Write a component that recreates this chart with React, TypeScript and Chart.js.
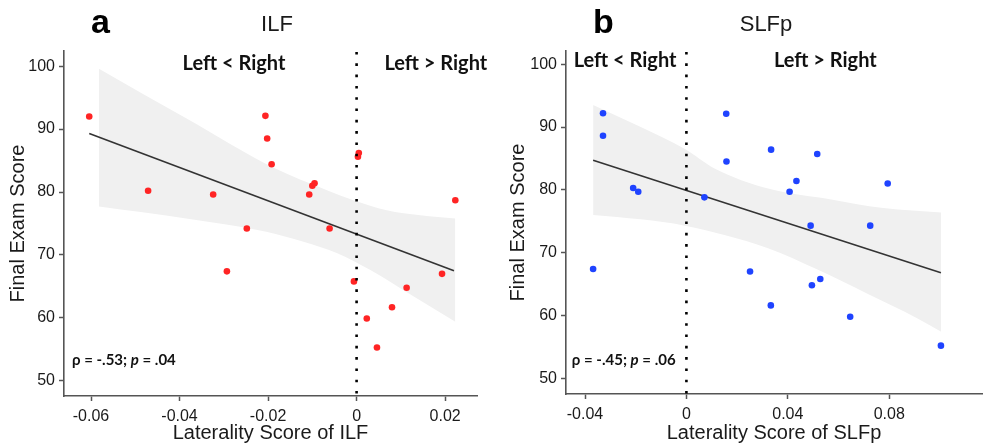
import React, { useEffect, useRef } from 'react';
import { Chart, registerables } from 'chart.js';

Chart.register(...registerables);

// ---------- Data: panel a (ILF) ----------
const ilfX = [-0.0604, -0.0471, -0.0324, -0.0293, -0.0248, -0.0206, -0.0202, -0.0192, -0.0107, -0.0100, -0.0095, -0.0061, -0.0006, 0.0003, 0.0005, 0.0023, 0.0046, 0.0080, 0.0113, 0.0193, 0.0223];
const ilfY = [92.0, 80.2, 79.6, 67.4, 74.2, 92.1, 88.5, 84.4, 79.6, 81.0, 81.4, 74.2, 65.8, 85.6, 86.2, 59.9, 55.3, 61.7, 64.8, 67.0, 78.7];
const ilfFitX = [-0.0604, 0.0220];
const ilfFitY = [89.3, 67.5];
const ilfUpperX = [-0.0582, -0.0385, -0.0186, -0.0067, -0.0007, 0.0068, 0.0144, 0.0223];
const ilfUpperY = [99.6, 91.7, 83.8, 80.3, 78.7, 77.1, 76.3, 75.8];
const ilfLowerX = [-0.0582, -0.0385, -0.0204, -0.0120, -0.0045, 0.0031, 0.0106, 0.0223];
const ilfLowerY = [77.7, 75.8, 73.7, 72.1, 70.3, 67.6, 64.4, 59.4];
const ilfXTicks = [-0.06, -0.04, -0.02, 0, 0.02];

// ---------- Data: panel b (SLFp) ----------
const slfX = [-0.0368, -0.0329, -0.0329, -0.0210, -0.0190, 0.0071, 0.0157, 0.0158, 0.0251, 0.0333, 0.0334, 0.0407, 0.0434, 0.0490, 0.0495, 0.0516, 0.0528, 0.0646, 0.0725, 0.0794, 0.1004];
const slfY = [67.4, 92.2, 88.6, 80.3, 79.7, 78.8, 92.1, 84.5, 67.0, 61.6, 86.4, 79.7, 81.4, 74.3, 64.8, 85.7, 65.8, 59.8, 74.3, 81.0, 55.2];
const slfFitX = [-0.0368, 0.1004];
const slfFitY = [84.7, 66.8];
const slfUpperX = [-0.0368, -0.018, -0.0006, 0.0111, 0.0322, 0.0582, 0.0777, 0.1005];
const slfUpperY = [93.5, 90.0, 86.5, 83.4, 80.2, 78.4, 77.1, 76.4];
const slfLowerX = [-0.0368, -0.018, -0.0006, 0.015, 0.0322, 0.0517, 0.0712, 0.0908, 0.1005];
const slfLowerY = [76.0, 75.3, 74.3, 72.8, 70.7, 67.3, 63.5, 59.6, 57.4];
const slfXTicks = [-0.04, 0, 0.04, 0.08];

const yTicks = [50, 60, 70, 80, 90, 100];

const SANS = '"Liberation Sans", Arial, Helvetica, sans-serif';
const NOTE = 'Lato, "Open Sans", sans-serif';

type Seg = { t: string; italic?: boolean };

interface PanelSpec {
  left: number;
  w: number;
  letter: string;
  title: string;
  xTitle: string;
  px: number[];
  py: number[];
  color: string;
  fitX: number[];
  fitY: number[];
  upX: number[];
  upY: number[];
  loX: number[];
  loY: number[];
  xTicks: number[];
  xMin: number;
  xMax: number;
  yMin: number;
  yMax: number;
  yAxisW: number;
  xAxisH: number;
  padTop: number;
  padRight: number;
  letterX: number;
  titleX: number;
  ltX: number;
  gtX: number;
  labY: number;
  stat: Seg[];
  statX: number;
  statY: number;
}

const panelA: PanelSpec = {
  left: 0, w: 500, letter: 'a', title: 'ILF', xTitle: 'Laterality Score of ILF',
  px: ilfX, py: ilfY, color: '#ff2424',
  fitX: ilfFitX, fitY: ilfFitY, upX: ilfUpperX, upY: ilfUpperY, loX: ilfLowerX, loY: ilfLowerY,
  xTicks: ilfXTicks, xMin: -0.0661, xMax: 0.0272, yMin: 47.6, yMax: 102.4,
  yAxisW: 64, xAxisH: 51, padTop: 51, padRight: 23,
  letterX: 91, titleX: 277,
  ltX: -0.0277, gtX: 0.0179, labY: 99.4,
  stat: [{ t: 'ρ = -.53; ' }, { t: 'p', italic: true }, { t: ' = .04' }],
  statX: -0.0643, statY: 52.5,
};

const panelB: PanelSpec = {
  left: 500, w: 486, letter: 'b', title: 'SLFp', xTitle: 'Laterality Score of SLFp',
  px: slfX, py: slfY, color: '#1f43ff',
  fitX: slfFitX, fitY: slfFitY, upX: slfUpperX, upY: slfUpperY, loX: slfLowerX, loY: slfLowerY,
  xTicks: slfXTicks, xMin: -0.0475, xMax: 0.1166, yMin: 47.5, yMax: 102.1,
  yAxisW: 66, xAxisH: 53, padTop: 51, padRight: 0,
  letterX: 93, titleX: 266,
  ltX: -0.0242, gtX: 0.0548, labY: 99.6,
  stat: [{ t: 'ρ = -.45; ' }, { t: 'p', italic: true }, { t: ' = .06' }],
  statX: -0.0452, statY: 52.1,
};

const zip = (xs: number[], ys: number[]) => xs.map((x, i) => ({ x, y: ys[i] }));

const fmt = (v: number) => (Math.abs(v) < 1e-9 ? '0' : String(Number(v.toFixed(2))));

function drawSegs(ctx: CanvasRenderingContext2D, segs: Seg[], x: number, y: number, size: number, align: 'left' | 'center') {
  let total = 0;
  const widths: number[] = [];
  for (const s of segs) {
    ctx.font = `${s.italic ? 'italic ' : ''}bold ${size}px ${NOTE}`;
    const w = ctx.measureText(s.t).width;
    widths.push(w);
    total += w;
  }
  let cx = align === 'center' ? x - total / 2 : x;
  ctx.textAlign = 'left';
  ctx.textBaseline = 'alphabetic';
  segs.forEach((s, i) => {
    ctx.font = `${s.italic ? 'italic ' : ''}bold ${size}px ${NOTE}`;
    ctx.fillText(s.t, cx, y);
    cx += widths[i];
  });
}

function Panel({ spec }: { spec: PanelSpec }) {
  const ref = useRef<HTMLCanvasElement | null>(null);
  useEffect(() => {
    if (!ref.current) return;
    const textPlugin = {
      id: 'panelText',
      afterDatasetsDraw(chart: any) {
        const { ctx, chartArea, scales } = chart;
        const xs = scales.x;
        const ys = scales.y;
        ctx.save();
        const x0 = xs.getPixelForValue(0);
        ctx.beginPath();
        ctx.setLineDash([2.6, 8.7]);
        ctx.lineWidth = 2.6;
        ctx.strokeStyle = '#000';
        ctx.moveTo(x0, chartArea.top + 1);
        ctx.lineTo(x0, chartArea.bottom);
        ctx.stroke();
        ctx.setLineDash([]);
        ctx.fillStyle = '#111';
        drawSegs(ctx, [{ t: 'Left < Right' }], xs.getPixelForValue(spec.ltX), ys.getPixelForValue(spec.labY), 20, 'center');
        drawSegs(ctx, [{ t: 'Left > Right' }], xs.getPixelForValue(spec.gtX), ys.getPixelForValue(spec.labY), 20, 'center');
        drawSegs(ctx, spec.stat, xs.getPixelForValue(spec.statX), ys.getPixelForValue(spec.statY), 15, 'left');
        ctx.restore();
      },
      afterDraw(chart: any) {
        const { ctx } = chart;
        ctx.save();
        ctx.fillStyle = '#000';
        ctx.textBaseline = 'alphabetic';
        ctx.textAlign = 'left';
        ctx.font = `bold 34px ${SANS}`;
        ctx.fillText(spec.letter, spec.letterX, 33);
        ctx.textAlign = 'center';
        ctx.font = `22px ${SANS}`;
        ctx.fillStyle = '#1a1a1a';
        ctx.fillText(spec.title, spec.titleX, 31);
        ctx.restore();
      },
    };

    const axisCommon = {
      grid: { display: true, drawOnChartArea: false, drawTicks: true, tickLength: 5, tickColor: '#555', tickWidth: 1.5 },
      border: { display: true, color: '#555', width: 1.6 },
    };

    const chart = new Chart(ref.current, {
      type: 'scatter',
      data: {
        datasets: [
          {
            type: 'scatter',
            data: zip(spec.px, spec.py),
            backgroundColor: spec.color,
            borderWidth: 0,
            pointRadius: 3.3,
            order: 0,
          } as any,
          {
            type: 'line',
            data: zip(spec.fitX, spec.fitY),
            borderColor: '#333',
            borderWidth: 1.6,
            pointRadius: 0,
            fill: false,
            order: 1,
          } as any,
          {
            type: 'line',
            data: zip(spec.upX, spec.upY),
            borderWidth: 0,
            borderColor: 'rgba(0,0,0,0)',
            backgroundColor: '#f0f0f0',
            pointRadius: 0,
            cubicInterpolationMode: 'monotone',
            fill: '+1',
            order: 2,
          } as any,
          {
            type: 'line',
            data: zip(spec.loX, spec.loY),
            borderWidth: 0,
            borderColor: 'rgba(0,0,0,0)',
            pointRadius: 0,
            cubicInterpolationMode: 'monotone',
            fill: false,
            order: 3,
          } as any,
        ],
      },
      options: {
        animation: false,
        responsive: false,
        events: [],
        layout: { padding: { top: spec.padTop, right: spec.padRight, left: 0, bottom: 0 } },
        plugins: { legend: { display: false }, tooltip: { enabled: false } },
        scales: {
          x: {
            type: 'linear',
            min: spec.xMin,
            max: spec.xMax,
            afterBuildTicks: (s: any) => {
              s.ticks = spec.xTicks.map((v) => ({ value: v }));
            },
            afterFit: (s: any) => {
              s.height = spec.xAxisH;
            },
            ticks: {
              callback: (v: any) => fmt(Number(v)),
              font: { family: SANS, size: 16 },
              color: '#1a1a1a',
              padding: 6,
              maxRotation: 0,
              autoSkip: false,
            },
            title: {
              display: true,
              text: spec.xTitle,
              font: { family: SANS, size: 20 },
              color: '#1a1a1a',
              padding: { top: 0, bottom: 2 },
            },
            ...axisCommon,
          } as any,
          y: {
            type: 'linear',
            min: spec.yMin,
            max: spec.yMax,
            afterBuildTicks: (s: any) => {
              s.ticks = yTicks.map((v) => ({ value: v }));
            },
            afterFit: (s: any) => {
              s.width = spec.yAxisW;
            },
            ticks: {
              callback: (v: any) => fmt(Number(v)),
              font: { family: SANS, size: 16 },
              color: '#1a1a1a',
              padding: 4,
              autoSkip: false,
            },
            title: {
              display: true,
              text: 'Final Exam Score',
              font: { family: SANS, size: 20 },
              color: '#1a1a1a',
              padding: { top: 6, bottom: 0 },
            },
            ...axisCommon,
          } as any,
        },
      },
      plugins: [textPlugin],
    });
    return () => chart.destroy();
  }, [spec]);

  return (
    <canvas
      ref={ref}
      width={spec.w}
      height={447}
      style={{ position: 'absolute', left: spec.left, top: 0, width: spec.w, height: 447 }}
    />
  );
}

export default function App() {
  return (
    <div style={{ position: 'absolute', left: 0, top: 0, width: 986, height: 447, background: '#fff', overflow: 'hidden' }}>
      <Panel spec={panelA} />
      <Panel spec={panelB} />
    </div>
  );
}
